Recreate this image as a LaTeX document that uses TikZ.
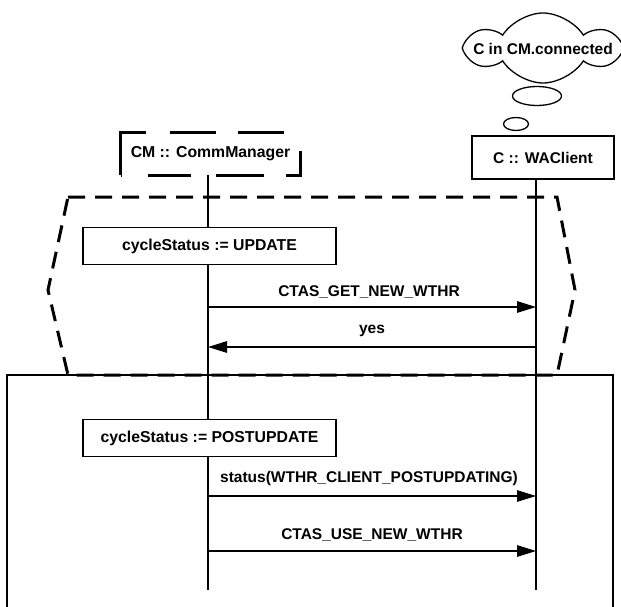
\documentclass[tikz,border=0pt]{standalone}
\usepackage{fontspec}
\setmainfont{Liberation Sans}
\usetikzlibrary{arrows.meta,shapes.symbols,shapes.geometric}
\tikzset{
  lbl/.style={font=\fontsize{15.5}{18}\selectfont\bfseries, inner sep=0pt},
  objbox/.style={draw, line width=1.5pt, inner sep=0pt, minimum width=142pt, minimum height=43pt, font=\fontsize{15.5}{18}\selectfont\bfseries},
  dashobj/.style={inner sep=0pt, minimum width=179pt, minimum height=42pt, font=\fontsize{15.8}{18}\selectfont\bfseries},
  dashborder/.style={line width=3pt, dash pattern=on 68pt off 24pt on 46pt off 22pt on 46pt off 34pt on 38pt off 22pt on 48pt off 25pt on 43pt off 26pt},
  actbox/.style={draw, line width=1.5pt, inner sep=0pt, minimum height=37pt, font=\fontsize{15.8}{18}\selectfont\bfseries},
  lifeline/.style={line width=1.3pt},
  msg/.style={line width=1.3pt, -{Triangle[length=19pt,width=11.5pt]}},
  region/.style={line width=3pt, dash pattern=on 17pt off 10pt},
  frame/.style={line width=1.3pt},
  thought/.style={draw, line width=1.3pt, ellipse, inner sep=0pt}
}
\begin{document}
\begin{tikzpicture}[x=1pt,y=-1pt]
\useasboundingbox (0,0) rectangle (621,607);
% cloud
\node[cloud, draw, line width=1.3pt, cloud puffs=6, cloud puff arc=115, aspect=2.2, minimum width=148pt, minimum height=70pt, inner sep=0pt] (cloud) at (543,48) {};
\node[lbl] (cloudtxt) at (543,49) {C in CM.connected};
\node[thought, minimum width=49pt, minimum height=19pt] (th1) at (537,96) {};
\node[thought, minimum width=25pt, minimum height=13pt] (th2) at (516,124) {};
% objects
\node[dashobj] (cm) at (210.5,154) {CM :: CommManager};
\draw[dashborder] (cm.south west) -- (cm.north west) -- (cm.north east) -- (cm.south east) -- cycle;
\node[objbox] (wa) at (543,157.5) {C :: WAClient};
% lifelines
\coordinate (cmtop) at (208,175);
\coordinate (cmbot) at (208,590);
\coordinate (watop) at (536,179);
\coordinate (wabot) at (536,590);
\draw[lifeline] (cmtop) -- (cmbot);
\draw[lifeline] (watop) -- (wabot);
% frame
\coordinate (f1) at (7,607);
\coordinate (f2) at (7,375);
\coordinate (f3) at (613,375);
\coordinate (f4) at (613,607);
\draw[frame] (f1) -- (f2) -- (f3) -- (f4);
% dashed region
\coordinate (h1) at (68,197);
\coordinate (h2) at (557,197);
\coordinate (h3) at (575,290);
\coordinate (h4) at (557,375);
\coordinate (h5) at (68,375);
\coordinate (h6) at (48,290);
\draw[region] (h1) -- (h2) -- (h3) -- (h4) -- (h5) -- (h6) -- cycle;
% actions
\node[actbox, fill=white, minimum width=253pt] (act1) at (209.5,246) {cycleStatus := UPDATE};
\node[actbox, fill=white, minimum width=253pt] (act2) at (209.5,438) {cycleStatus := POSTUPDATE};
% messages
\coordinate (cm1) at (208,307); \coordinate (wa1) at (536,307);
\coordinate (cm2) at (208,347); \coordinate (wa2) at (536,347);
\coordinate (cm3) at (208,496); \coordinate (wa3) at (536,496);
\coordinate (cm4) at (208,551); \coordinate (wa4) at (536,551);
\draw[msg] (cm1) -- (wa1);
\draw[msg] (wa2) -- (cm2);
\draw[msg] (cm3) -- (wa3);
\draw[msg] (cm4) -- (wa4);
\node[lbl] (m1) at (369,292.5) {CTAS\_GET\_NEW\_WTHR};
\node[lbl] (m2) at (372,331) {yes};
\node[lbl] (m3) at (369,478) {status(WTHR\_CLIENT\_POSTUPDATING)};
\node[lbl] (m4) at (372,535) {CTAS\_USE\_NEW\_WTHR};
\end{tikzpicture}
\end{document}
